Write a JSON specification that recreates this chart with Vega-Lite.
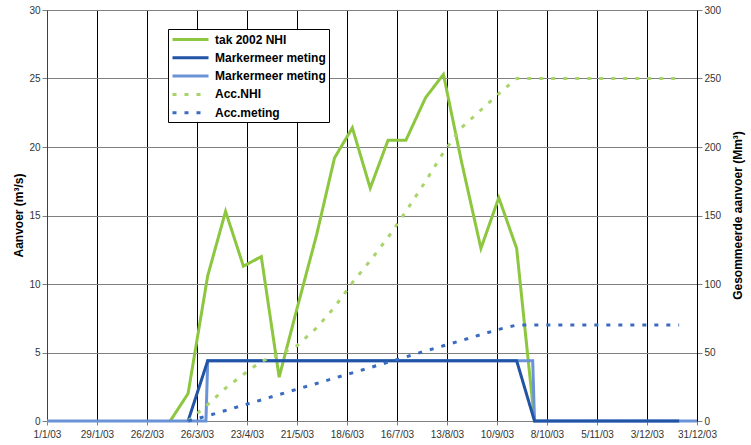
{
  "$schema": "https://vega.github.io/schema/vega-lite/v6.json",
  "autosize": {"type": "none"},
  "padding": {"left": 47, "top": 10, "right": 54, "bottom": 24},
  "width": 650,
  "height": 411,
  "background": "white",
  "config": {
    "font": "Liberation Sans",
    "view": {"stroke": null},
    "axis": {
      "labelFont": "Liberation Sans",
      "labelFontSize": 10,
      "labelColor": "#333333",
      "titleFont": "Liberation Sans",
      "titleFontSize": 12,
      "titleFontWeight": "bold",
      "titleColor": "black",
      "tickColor": "#808080",
      "domainColor": "#404040",
      "gridOpacity": 1,
      "gridWidth": 1
    },
    "legend": {
      "orient": "none",
      "legendX": 121,
      "legendY": 19,
      "strokeColor": "black",
      "fillColor": "white",
      "padding": 3,
      "labelFont": "Liberation Sans",
      "labelFontSize": 12,
      "labelFontWeight": "bold",
      "labelColor": "black",
      "symbolType": "M-1,0H5",
      "symbolSize": 144,
      "labelOffset": 29,
      "rowPadding": 4.3
    }
  },
  "datasets": {
    "flow": [
      {"series": "tak 2002 NHI", "date": "2003-03-11", "value": 0},
      {"series": "tak 2002 NHI", "date": "2003-03-21", "value": 2.0},
      {"series": "tak 2002 NHI", "date": "2003-04-01", "value": 10.6},
      {"series": "tak 2002 NHI", "date": "2003-04-11", "value": 15.3},
      {"series": "tak 2002 NHI", "date": "2003-04-21", "value": 11.3},
      {"series": "tak 2002 NHI", "date": "2003-05-01", "value": 12.0},
      {"series": "tak 2002 NHI", "date": "2003-05-11", "value": 3.2},
      {"series": "tak 2002 NHI", "date": "2003-05-21", "value": 8.2},
      {"series": "tak 2002 NHI", "date": "2003-06-01", "value": 13.6},
      {"series": "tak 2002 NHI", "date": "2003-06-11", "value": 19.2},
      {"series": "tak 2002 NHI", "date": "2003-06-21", "value": 21.4},
      {"series": "tak 2002 NHI", "date": "2003-07-01", "value": 17.0},
      {"series": "tak 2002 NHI", "date": "2003-07-11", "value": 20.5},
      {"series": "tak 2002 NHI", "date": "2003-07-21", "value": 20.5},
      {"series": "tak 2002 NHI", "date": "2003-08-01", "value": 23.6},
      {"series": "tak 2002 NHI", "date": "2003-08-11", "value": 25.3},
      {"series": "tak 2002 NHI", "date": "2003-08-21", "value": 19.0},
      {"series": "tak 2002 NHI", "date": "2003-09-01", "value": 12.6},
      {"series": "tak 2002 NHI", "date": "2003-09-11", "value": 16.3},
      {"series": "tak 2002 NHI", "date": "2003-09-21", "value": 12.6},
      {"series": "tak 2002 NHI", "date": "2003-10-01", "value": 0},
      {"series": "Markermeer meting ", "date": "2003-01-01", "value": 0},
      {"series": "Markermeer meting ", "date": "2003-03-31", "value": 0},
      {"series": "Markermeer meting ", "date": "2003-04-01", "value": 4.4},
      {"series": "Markermeer meting ", "date": "2003-09-30", "value": 4.4},
      {"series": "Markermeer meting ", "date": "2003-10-01", "value": 0},
      {"series": "Markermeer meting ", "date": "2003-12-31", "value": 0},
      {"series": "Markermeer meting", "date": "2003-03-21", "value": 0},
      {"series": "Markermeer meting", "date": "2003-04-01", "value": 4.4},
      {"series": "Markermeer meting", "date": "2003-04-11", "value": 4.4},
      {"series": "Markermeer meting", "date": "2003-04-21", "value": 4.4},
      {"series": "Markermeer meting", "date": "2003-05-01", "value": 4.4},
      {"series": "Markermeer meting", "date": "2003-05-11", "value": 4.4},
      {"series": "Markermeer meting", "date": "2003-05-21", "value": 4.4},
      {"series": "Markermeer meting", "date": "2003-06-01", "value": 4.4},
      {"series": "Markermeer meting", "date": "2003-06-11", "value": 4.4},
      {"series": "Markermeer meting", "date": "2003-06-21", "value": 4.4},
      {"series": "Markermeer meting", "date": "2003-07-01", "value": 4.4},
      {"series": "Markermeer meting", "date": "2003-07-11", "value": 4.4},
      {"series": "Markermeer meting", "date": "2003-07-21", "value": 4.4},
      {"series": "Markermeer meting", "date": "2003-08-01", "value": 4.4},
      {"series": "Markermeer meting", "date": "2003-08-11", "value": 4.4},
      {"series": "Markermeer meting", "date": "2003-08-21", "value": 4.4},
      {"series": "Markermeer meting", "date": "2003-09-01", "value": 4.4},
      {"series": "Markermeer meting", "date": "2003-09-11", "value": 4.4},
      {"series": "Markermeer meting", "date": "2003-09-21", "value": 4.4},
      {"series": "Markermeer meting", "date": "2003-10-01", "value": 0},
      {"series": "Markermeer meting", "date": "2003-10-11", "value": 0},
      {"series": "Markermeer meting", "date": "2003-10-21", "value": 0},
      {"series": "Markermeer meting", "date": "2003-11-01", "value": 0},
      {"series": "Markermeer meting", "date": "2003-11-11", "value": 0},
      {"series": "Markermeer meting", "date": "2003-11-21", "value": 0},
      {"series": "Markermeer meting", "date": "2003-12-01", "value": 0},
      {"series": "Markermeer meting", "date": "2003-12-11", "value": 0},
      {"series": "Markermeer meting", "date": "2003-12-21", "value": 0}
    ],
    "acc": [
      {"series": "Acc.NHI", "date": "2003-03-21", "value": 0},
      {"series": "Acc.NHI", "date": "2003-04-01", "value": 12},
      {"series": "Acc.NHI", "date": "2003-04-11", "value": 24},
      {"series": "Acc.NHI", "date": "2003-04-21", "value": 34},
      {"series": "Acc.NHI", "date": "2003-05-01", "value": 43.5},
      {"series": "Acc.NHI", "date": "2003-05-11", "value": 48.5},
      {"series": "Acc.NHI", "date": "2003-05-21", "value": 55},
      {"series": "Acc.NHI", "date": "2003-06-01", "value": 68},
      {"series": "Acc.NHI", "date": "2003-06-11", "value": 83},
      {"series": "Acc.NHI", "date": "2003-06-21", "value": 101},
      {"series": "Acc.NHI", "date": "2003-07-01", "value": 117},
      {"series": "Acc.NHI", "date": "2003-07-11", "value": 134},
      {"series": "Acc.NHI", "date": "2003-07-21", "value": 153},
      {"series": "Acc.NHI", "date": "2003-08-01", "value": 175},
      {"series": "Acc.NHI", "date": "2003-08-11", "value": 196},
      {"series": "Acc.NHI", "date": "2003-08-21", "value": 214},
      {"series": "Acc.NHI", "date": "2003-09-01", "value": 227},
      {"series": "Acc.NHI", "date": "2003-09-11", "value": 239},
      {"series": "Acc.NHI", "date": "2003-09-21", "value": 250},
      {"series": "Acc.NHI", "date": "2003-10-01", "value": 250},
      {"series": "Acc.NHI", "date": "2003-10-11", "value": 250},
      {"series": "Acc.NHI", "date": "2003-10-21", "value": 250},
      {"series": "Acc.NHI", "date": "2003-11-01", "value": 250},
      {"series": "Acc.NHI", "date": "2003-11-11", "value": 250},
      {"series": "Acc.NHI", "date": "2003-11-21", "value": 250},
      {"series": "Acc.NHI", "date": "2003-12-01", "value": 250},
      {"series": "Acc.NHI", "date": "2003-12-11", "value": 250},
      {"series": "Acc.NHI", "date": "2003-12-21", "value": 250},
      {"series": "Acc.meting", "date": "2003-03-21", "value": 0},
      {"series": "Acc.meting", "date": "2003-04-01", "value": 3.8},
      {"series": "Acc.meting", "date": "2003-04-11", "value": 7.7},
      {"series": "Acc.meting", "date": "2003-04-21", "value": 11.6},
      {"series": "Acc.meting", "date": "2003-05-01", "value": 15.4},
      {"series": "Acc.meting", "date": "2003-05-11", "value": 19.3},
      {"series": "Acc.meting", "date": "2003-05-21", "value": 23.2},
      {"series": "Acc.meting", "date": "2003-06-01", "value": 27.4},
      {"series": "Acc.meting", "date": "2003-06-11", "value": 31.3},
      {"series": "Acc.meting", "date": "2003-06-21", "value": 35.1},
      {"series": "Acc.meting", "date": "2003-07-01", "value": 39.0},
      {"series": "Acc.meting", "date": "2003-07-11", "value": 42.9},
      {"series": "Acc.meting", "date": "2003-07-21", "value": 46.8},
      {"series": "Acc.meting", "date": "2003-08-01", "value": 51.1},
      {"series": "Acc.meting", "date": "2003-08-11", "value": 54.9},
      {"series": "Acc.meting", "date": "2003-08-21", "value": 58.7},
      {"series": "Acc.meting", "date": "2003-09-01", "value": 63.1},
      {"series": "Acc.meting", "date": "2003-09-11", "value": 66.9},
      {"series": "Acc.meting", "date": "2003-09-21", "value": 70},
      {"series": "Acc.meting", "date": "2003-10-01", "value": 70},
      {"series": "Acc.meting", "date": "2003-10-11", "value": 70},
      {"series": "Acc.meting", "date": "2003-10-21", "value": 70},
      {"series": "Acc.meting", "date": "2003-11-01", "value": 70},
      {"series": "Acc.meting", "date": "2003-11-11", "value": 70},
      {"series": "Acc.meting", "date": "2003-11-21", "value": 70},
      {"series": "Acc.meting", "date": "2003-12-01", "value": 70},
      {"series": "Acc.meting", "date": "2003-12-11", "value": 70},
      {"series": "Acc.meting", "date": "2003-12-21", "value": 70}
    ]
  },
  "layer": [
    {
      "data": {"name": "flow"},
      "mark": {"type": "line", "strokeJoin": "miter", "strokeCap": "butt"},
      "encoding": {
        "x": {
          "field": "date",
          "type": "temporal",
          "scale": {"type": "utc", "domain": [{"year": 2003, "month": 1, "date": 1, "utc": true}, {"year": 2003, "month": 12, "date": 31, "utc": true}]},
          "axis": {
            "title": null,
            "format": "%-d/%-m/%y",
            "values": [
              {"year": 2003, "month": 1, "date": 1, "utc": true},
              {"year": 2003, "month": 1, "date": 29, "utc": true},
              {"year": 2003, "month": 2, "date": 26, "utc": true},
              {"year": 2003, "month": 3, "date": 26, "utc": true},
              {"year": 2003, "month": 4, "date": 23, "utc": true},
              {"year": 2003, "month": 5, "date": 21, "utc": true},
              {"year": 2003, "month": 6, "date": 18, "utc": true},
              {"year": 2003, "month": 7, "date": 16, "utc": true},
              {"year": 2003, "month": 8, "date": 13, "utc": true},
              {"year": 2003, "month": 9, "date": 10, "utc": true},
              {"year": 2003, "month": 10, "date": 8, "utc": true},
              {"year": 2003, "month": 11, "date": 5, "utc": true},
              {"year": 2003, "month": 12, "date": 3, "utc": true},
              {"year": 2003, "month": 12, "date": 31, "utc": true}
            ],
            "grid": true,
            "gridColor": "black",
            "tickSize": 4,
            "labelPadding": 4,
            "domainColor": "#808080",
            "labelFlush": false,
            "labelOverlap": false
          }
        },
        "y": {
          "field": "value",
          "type": "quantitative",
          "scale": {"domain": [0, 30], "nice": false},
          "axis": {
            "title": "Aanvoer (m³/s)",
            "values": [0, 5, 10, 15, 20, 25, 30],
            "grid": true,
            "gridColor": "#808080",
            "tickSize": 5,
            "labelPadding": 2,
            "titleX": -29,
            "titleY": 205,
            "titleAngle": 270,
            "titleBaseline": "middle",
            "titleAlign": "center"
          }
        },
        "color": {
          "field": "series",
          "type": "nominal",
          "scale": {
            "domain": ["tak 2002 NHI", "Markermeer meting", "Markermeer meting ", "Acc.NHI", "Acc.meting"],
            "range": ["#8DC63F", "#2154A5", "#6A92D6", "#A8D46A", "#3A6BC0"]
          },
          "legend": {"title": null}
        },
        "strokeWidth": {
          "field": "series",
          "type": "nominal",
          "scale": {
            "domain": ["tak 2002 NHI", "Markermeer meting", "Markermeer meting ", "Acc.NHI", "Acc.meting"],
            "range": [3, 3, 1, 1.5, 1.5]
          },
          "legend": {"title": null}
        },
        "strokeDash": {
          "field": "series",
          "type": "nominal",
          "scale": {
            "domain": ["tak 2002 NHI", "Markermeer meting", "Markermeer meting ", "Acc.NHI", "Acc.meting"],
            "range": [[1, 0], [1, 0], [1, 0], [4, 8], [4, 8]]
          },
          "legend": {"title": null}
        }
      }
    },
    {
      "data": {"name": "acc"},
      "mark": {"type": "line", "strokeCap": "butt"},
      "encoding": {
        "x": {
          "field": "date",
          "type": "temporal",
          "scale": {"type": "utc", "domain": [{"year": 2003, "month": 1, "date": 1, "utc": true}, {"year": 2003, "month": 12, "date": 31, "utc": true}]}
        },
        "y": {
          "field": "value",
          "type": "quantitative",
          "scale": {"domain": [0, 300], "nice": false},
          "axis": {
            "orient": "right",
            "title": "Gesommeerde aanvoer (Mm³)",
            "values": [0, 50, 100, 150, 200, 250, 300],
            "grid": false,
            "tickSize": 5,
            "labelPadding": 2,
            "domainColor": "black",
            "titleX": 40,
            "titleY": 205,
            "titleAngle": 270,
            "titleBaseline": "middle",
            "titleAlign": "center"
          }
        },
        "color": {
          "field": "series",
          "type": "nominal",
          "scale": {
            "domain": ["tak 2002 NHI", "Markermeer meting", "Markermeer meting ", "Acc.NHI", "Acc.meting"],
            "range": ["#8DC63F", "#2154A5", "#6A92D6", "#A8D46A", "#3A6BC0"]
          },
          "legend": {"title": null}
        },
        "strokeWidth": {
          "field": "series",
          "type": "nominal",
          "scale": {
            "domain": ["tak 2002 NHI", "Markermeer meting", "Markermeer meting ", "Acc.NHI", "Acc.meting"],
            "range": [3, 3, 1, 1.5, 1.5]
          },
          "legend": {"title": null}
        },
        "strokeDash": {
          "field": "series",
          "type": "nominal",
          "scale": {
            "domain": ["tak 2002 NHI", "Markermeer meting", "Markermeer meting ", "Acc.NHI", "Acc.meting"],
            "range": [[1, 0], [1, 0], [1, 0], [4, 8], [4, 8]]
          },
          "legend": {"title": null}
        }
      }
    }
  ],
  "resolve": {"scale": {"y": "independent"}}
}
